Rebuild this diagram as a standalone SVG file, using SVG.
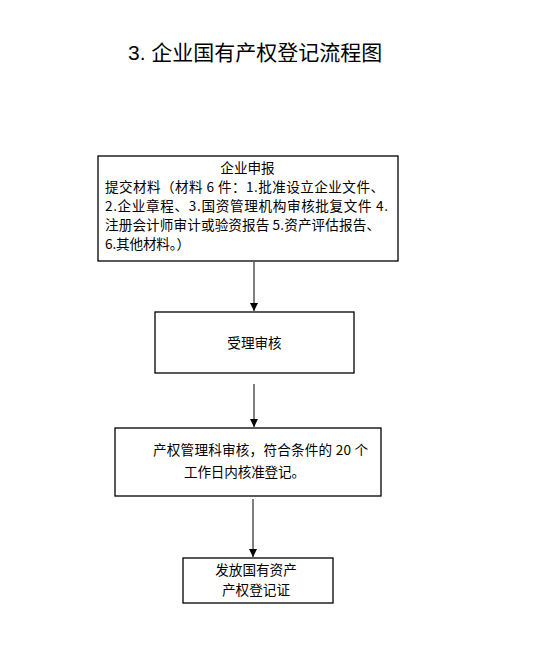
<svg xmlns="http://www.w3.org/2000/svg" width="534" height="646" viewBox="0 0 534 646">
<defs>
<style>
.box{fill:#fff;stroke:#000;stroke-width:1.3}
.t{font-family:"Noto Sans CJK SC","Liberation Sans",sans-serif;font-size:13.6px;fill:#000}
.title{font-family:"Liberation Sans","Noto Sans CJK SC",sans-serif;font-size:21px;fill:#000}
.c{stroke:#000;stroke-width:1;fill:none}
</style>
<marker id="ah" viewBox="0 0 8 8" refX="8" refY="4" markerWidth="8" markerHeight="8" markerUnits="userSpaceOnUse" orient="auto">
<path d="M0,0 L8,4 L0,8 Z" fill="#000"/>
</marker>
</defs>
<rect width="534" height="646" fill="#fff"/>
<text class="title" x="128" y="60">3. 企业国有产权登记流程图</text>
<g id="connectors">
<line class="c" x1="254" y1="262" x2="254" y2="311" marker-end="url(#ah)"/>
<line class="c" x1="254" y1="384" x2="254" y2="427" marker-end="url(#ah)"/>
<line class="c" x1="253" y1="499" x2="253" y2="557" marker-end="url(#ah)"/>
</g>
<g id="node1">
<rect class="box" x="98" y="156" width="300" height="105"/>
<text class="t" x="247.5" y="173" text-anchor="middle">企业申报</text>
<text class="t" x="105" y="192" textLength="279" lengthAdjust="spacing">提交材料（材料 6 件：1.批准设立企业文件、</text>
<text class="t" x="105" y="211" textLength="283" lengthAdjust="spacing">2.企业章程、3.国资管理机构审核批复文件 4.</text>
<text class="t" x="105" y="230" textLength="275" lengthAdjust="spacing">注册会计师审计或验资报告 5.资产评估报告、</text>
<text class="t" x="105" y="249" textLength="85" lengthAdjust="spacing">6.其他材料。）</text>
</g>
<g id="node2">
<rect class="box" x="155" y="312" width="199" height="61"/>
<text class="t" x="254.5" y="348" text-anchor="middle">受理审核</text>
</g>
<g id="node3">
<rect class="box" x="115" y="428" width="266" height="68"/>
<text class="t" x="153" y="455" textLength="215" lengthAdjust="spacing">产权管理科审核，符合条件的 20 个</text>
<text class="t" x="184" y="477" textLength="121" lengthAdjust="spacing">工作日内核准登记。</text>
</g>
<g id="node4">
<rect class="box" x="183" y="558" width="150" height="45"/>
<text class="t" x="256" y="575" text-anchor="middle">发放国有资产</text>
<text class="t" x="256" y="595" text-anchor="middle">产权登记证</text>
</g>
</svg>
